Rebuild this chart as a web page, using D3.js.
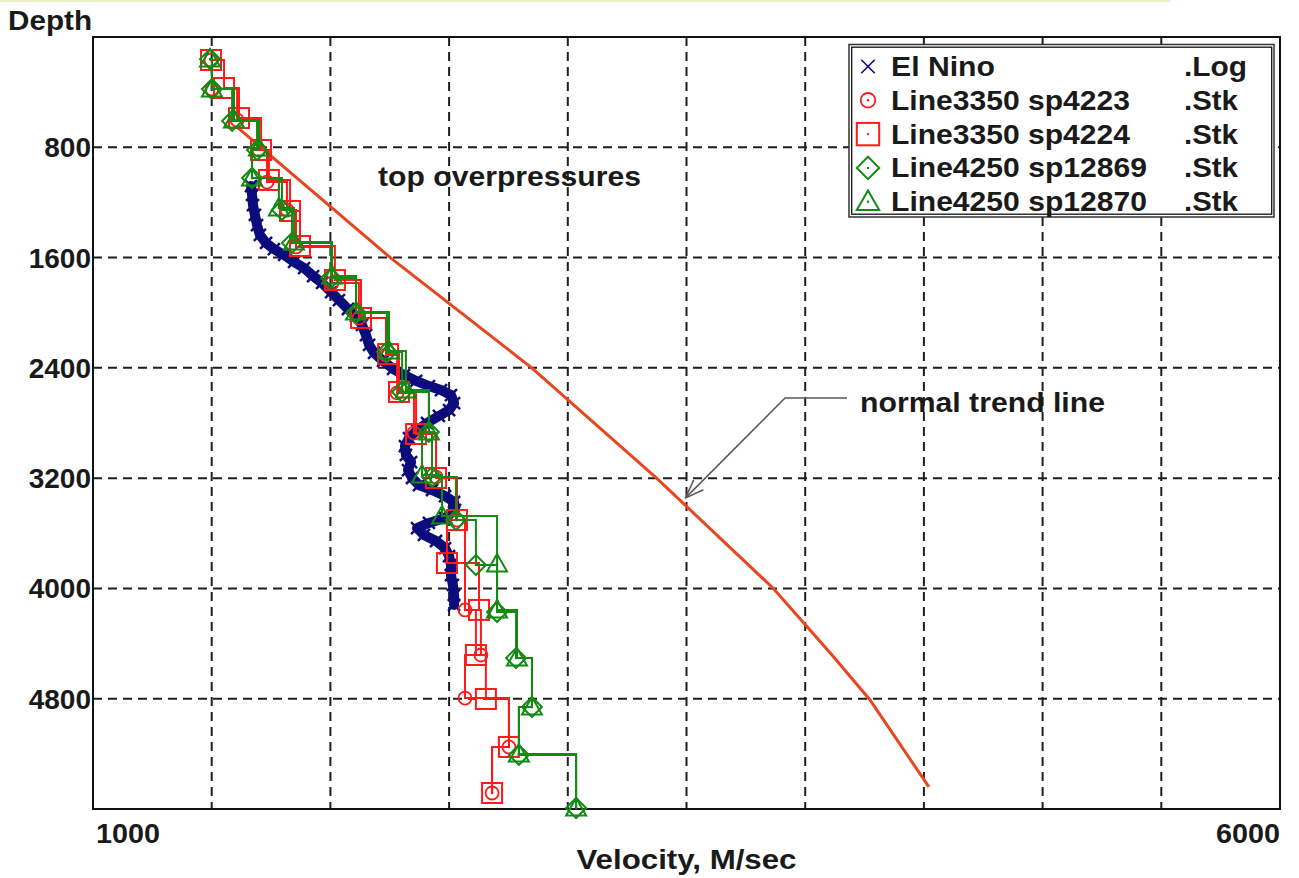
<!DOCTYPE html>
<html>
<head>
<meta charset="utf-8">
<script src="https://cdn.jsdelivr.net/npm/d3@7"></script>
<style>
  html, body { margin: 0; padding: 0; background: #ffffff; }
  svg { display: block; }
  text { font-family: "Liberation Sans", Arial, sans-serif; font-weight: bold; fill: #1a1a1a; }
</style>
</head>
<body>
<svg id="chart" width="1299" height="878"></svg>
<script>
// ---------------- DATA ----------------
const velocityDomain = [1000, 6000];
const depthDomain = [0, 5600];
const xGridValues = [1500, 2000, 2500, 3000, 3500, 4000, 4500, 5000, 5500];
const yTickValues = [800, 1600, 2400, 3200, 4000, 4800];
const xTickLabels = ["1000", "6000"];
const xAxisTitle = "Velocity, M/sec";
const yAxisTitle = "Depth";

// normal trend line
const trendVelocity = [1607, 2259, 2848, 3374, 3866, 4113, 4273, 4521];
const trendDepth    = [653, 1610, 2400, 3200, 4000, 4483, 4809, 5440];

// El Nino .Log (sonic log velocities)
const elNinoVelocity = [1666, 1670, 1674, 1682, 1691, 1703, 1729, 1762, 1805, 1847, 1889, 1927, 1965, 2003, 2036, 2074, 2108, 2133, 2150, 2163, 2184, 2222, 2264, 2310, 2361, 2415, 2466, 2508, 2521, 2500, 2457, 2407, 2365, 2331, 2314, 2318, 2340, 2327, 2344, 2373, 2428, 2483, 2521, 2525, 2483, 2415, 2365, 2394, 2445, 2483, 2500, 2508, 2508, 2516, 2521, 2521];
const elNinoDepth    = [1081, 1146, 1219, 1291, 1364, 1436, 1494, 1538, 1581, 1632, 1676, 1734, 1784, 1850, 1908, 1973, 2024, 2089, 2162, 2234, 2292, 2350, 2408, 2452, 2495, 2532, 2561, 2597, 2655, 2706, 2749, 2800, 2851, 2909, 2967, 3032, 3083, 3141, 3199, 3250, 3286, 3330, 3373, 3431, 3489, 3525, 3562, 3612, 3656, 3707, 3765, 3830, 3903, 3975, 4048, 4120];

// Line3350 sp4223 .Stk (circles)
const sp4223Velocity = [1497, 1501, 1607, 1699, 1733, 1817, 1855, 2007, 2120, 2234, 2281, 2352, 2445, 2533, 2567, 2634, 2567, 2752, 2681];
const sp4223Depth    = [167, 377, 602, 820, 1052, 1255, 1523, 1784, 2038, 2307, 2582, 2873, 3192, 3504, 4156, 4483, 4795, 5150, 5484];

// Line3350 sp4224 .Stk (squares)
const sp4224Velocity = [1497, 1552, 1615, 1708, 1741, 1830, 1872, 2019, 2129, 2243, 2289, 2361, 2445, 2533, 2491, 2626, 2613, 2655, 2752, 2681];
const sp4224Depth    = [167, 370, 588, 820, 1037, 1262, 1516, 1763, 2038, 2300, 2575, 2880, 3199, 3504, 3816, 4156, 4483, 4802, 5150, 5484];

// Line4250 sp12869 .Stk (diamonds)
const sp12869Velocity = [1493, 1501, 1586, 1691, 1670, 1796, 1838, 2003, 2108, 2238, 2302, 2415, 2428, 2529, 2613, 2702, 2782, 2849, 2794, 3035];
const sp12869Depth    = [160, 377, 609, 820, 1023, 1255, 1494, 1748, 2002, 2285, 2575, 2865, 3192, 3504, 3830, 4171, 4505, 4860, 5208, 5593];

// Line4250 sp12870 .Stk (triangles)
const sp12870Velocity = [1493, 1501, 1594, 1699, 1670, 1783, 1847, 2007, 2108, 2247, 2318, 2415, 2386, 2470, 2702, 2702, 2786, 2849, 2794, 3035];
const sp12870Depth    = [160, 377, 602, 805, 1023, 1240, 1487, 1734, 1995, 2278, 2561, 2865, 3177, 3475, 3823, 4156, 4505, 4860, 5201, 5593];

const legendNames  = ["El Nino", "Line3350 sp4223", "Line3350 sp4224", "Line4250 sp12869", "Line4250 sp12870"];
const legendSuffix = [".Log", ".Stk", ".Stk", ".Stk", ".Stk"];
const legendSymbols = ["x", "circle", "square", "diamond", "triangle"];

const annotationTop = "top overpressures";
const annotationTrend = "normal trend line";

// ---------------- DRAW ----------------
(function () {
const svg = d3.select("#chart");
const W = 1299, H = 878;
const pL = 93, pR = 1280, pT = 37, pB = 809;

const x = d3.scaleLinear().domain(velocityDomain).range([pL, pR]);
const y = d3.scaleLinear().domain(depthDomain).range([pT, pB]);

const RED = "#ff1a1a", GREEN = "#138a13", NAVY = "#0c0c7c", TREND = "#e8461e";

svg.append("rect").attr("width", W).attr("height", H).attr("fill", "#ffffff");
svg.append("rect").attr("x", 0).attr("y", 0).attr("width", 1170).attr("height", 2).attr("fill", "#ecefc6");

// grid
const grid = svg.append("g").attr("stroke", "#1e1e1e").attr("stroke-width", 2).attr("stroke-dasharray", "9,6");
grid.selectAll("line.v").data(xGridValues).join("line").attr("class", "v")
  .attr("x1", d => x(d)).attr("x2", d => x(d)).attr("y1", pT).attr("y2", pB);
grid.selectAll("line.h").data(yTickValues).join("line").attr("class", "h")
  .attr("x1", pL).attr("x2", pR).attr("y1", d => y(d)).attr("y2", d => y(d));

// frame
svg.append("rect").attr("x", pL).attr("y", pT).attr("width", pR - pL).attr("height", pB - pT)
  .attr("fill", "none").attr("stroke", "#111").attr("stroke-width", 2);

// y axis tick labels
svg.append("g").selectAll("text").data(yTickValues).join("text")
  .attr("x", 91).attr("y", d => y(d) + 10).attr("text-anchor", "end")
  .attr("font-size", 28).text(d => d);

svg.append("text").attr("x", 8).attr("y", 30).attr("font-size", 28)
  .attr("textLength", 84).attr("lengthAdjust", "spacingAndGlyphs").text(yAxisTitle);

// x tick labels (only ends)
svg.append("text").attr("x", x(velocityDomain[0]) + 3).attr("y", 843).attr("font-size", 28)
  .attr("textLength", 64).attr("lengthAdjust", "spacingAndGlyphs").text(xTickLabels[0]);
svg.append("text").attr("x", x(velocityDomain[1]) - 64).attr("y", 843).attr("font-size", 28)
  .attr("textLength", 64).attr("lengthAdjust", "spacingAndGlyphs").text(xTickLabels[1]);
svg.append("text").attr("x", (pL + pR) / 2 - 110).attr("y", 869).attr("font-size", 28)
  .attr("textLength", 220).attr("lengthAdjust", "spacingAndGlyphs").text(xAxisTitle);

// trend line
const trendData = trendVelocity.map((v, i) => [v, trendDepth[i]]);
svg.append("path").datum(trendData)
  .attr("d", d3.line().x(d => x(d[0])).y(d => y(d[1])))
  .attr("fill", "none").attr("stroke", TREND).attr("stroke-width", 3);

// El Nino log
const logData = elNinoVelocity.map((v, i) => [v, elNinoDepth[i]]);
svg.append("path").datum(logData)
  .attr("d", d3.line().x(d => x(d[0])).y(d => y(d[1])))
  .attr("fill", "none").attr("stroke", NAVY).attr("stroke-width", 10)
  .attr("stroke-linejoin", "round").attr("stroke-linecap", "round");
const xMark = (g, cx, cy, s, color, w) => {
  g.append("path").attr("d", `M${cx - s},${cy - s}L${cx + s},${cy + s}M${cx - s},${cy + s}L${cx + s},${cy - s}`)
    .attr("stroke", color).attr("stroke-width", w).attr("fill", "none");
};
const logG = svg.append("g");
logData.forEach(d => xMark(logG, x(d[0]), y(d[1]), 6, NAVY, 2.5));

// marker helpers
function drawMarker(g, type, cx, cy, color, big) {
  const k = big ? 1.12 : 1;
  if (type === "circle") {
    g.append("circle").attr("cx", cx).attr("cy", cy).attr("r", 6.5 * k).attr("fill", "none").attr("stroke", color).attr("stroke-width", 1.8);
  } else if (type === "square") {
    const s = 10 * k;
    g.append("rect").attr("x", cx - s).attr("y", cy - s).attr("width", 2 * s).attr("height", 2 * s).attr("fill", "none").attr("stroke", color).attr("stroke-width", 2);
  } else if (type === "diamond") {
    const s = 10 * k;
    g.append("path").attr("d", `M${cx},${cy - s}L${cx + s},${cy}L${cx},${cy + s}L${cx - s},${cy}Z`).attr("fill", "none").attr("stroke", color).attr("stroke-width", 2);
  } else if (type === "triangle") {
    const s = 10 * k;
    g.append("path").attr("d", `M${cx},${cy - s}L${cx + s},${cy + 0.75 * s}L${cx - s},${cy + 0.75 * s}Z`).attr("fill", "none").attr("stroke", color).attr("stroke-width", 2);
  } else if (type === "x") {
    xMark(g, cx, cy, 6 * k, NAVY, 1.6);
    return;
  }
  g.append("circle").attr("cx", cx).attr("cy", cy).attr("r", 1.2).attr("fill", color);
}

const seriesList = [
  { v: sp4223Velocity, d: sp4223Depth, color: RED, sym: "circle" },
  { v: sp4224Velocity, d: sp4224Depth, color: RED, sym: "square" },
  { v: sp12869Velocity, d: sp12869Depth, color: GREEN, sym: "diamond" },
  { v: sp12870Velocity, d: sp12870Depth, color: GREEN, sym: "triangle" }
];
const stepLine = d3.line().x(d => x(d[0])).y(d => y(d[1])).curve(d3.curveStepAfter);
seriesList.forEach(s => {
  const pts = s.v.map((v, i) => [v, s.d[i]]);
  const g = svg.append("g");
  g.append("path").datum(pts).attr("d", stepLine).attr("fill", "none").attr("stroke", s.color).attr("stroke-width", 2);
  pts.forEach(p => drawMarker(g, s.sym, x(p[0]), y(p[1]), s.color, false));
});

// annotations
svg.append("text").attr("x", 378).attr("y", 186).attr("font-size", 28)
  .attr("textLength", 263).attr("lengthAdjust", "spacingAndGlyphs").text(annotationTop);
svg.append("text").attr("x", 860).attr("y", 412).attr("font-size", 28)
  .attr("textLength", 245).attr("lengthAdjust", "spacingAndGlyphs").text(annotationTrend);

const tip = [x(3495), y(3345)];
const elbow = [x(3915), y(2619)];
const arrowG = svg.append("g").attr("stroke", "#5a5a5a").attr("stroke-width", 1.6).attr("fill", "none");
arrowG.append("polyline").attr("points", `847,${elbow[1]} ${elbow[0]},${elbow[1]} ${tip[0]},${tip[1]}`);
const ang = Math.atan2(elbow[1] - tip[1], elbow[0] - tip[0]);
[-0.35, 0.35].forEach(da => {
  arrowG.append("line").attr("x1", tip[0]).attr("y1", tip[1])
    .attr("x2", tip[0] + 20 * Math.cos(ang + da)).attr("y2", tip[1] + 20 * Math.sin(ang + da));
});

// legend
const lg = svg.append("g");
lg.append("rect").attr("x", 849).attr("y", 44.5).attr("width", 425).attr("height", 172.5)
  .attr("fill", "#fff").attr("stroke", "#333").attr("stroke-width", 1.5);
lg.append("rect").attr("x", 851.7).attr("y", 47.2).attr("width", 420).attr("height", 167)
  .attr("fill", "none").attr("stroke", "#111").attr("stroke-width", 1.3);
const legendWidths = [104, 239, 239, 256, 256];
const suffixWidths = [63, 54, 54, 54, 54];
const legendColors = [NAVY, RED, RED, GREEN, GREEN];
legendNames.forEach((name, i) => {
  const base = 76 + i * 33.8;
  drawMarker(lg, legendSymbols[i], 868, base - 9.5, legendColors[i], true);
  lg.append("text").attr("x", 891).attr("y", base).attr("font-size", 27)
    .attr("textLength", legendWidths[i]).attr("lengthAdjust", "spacingAndGlyphs").text(name);
  lg.append("text").attr("x", 1184).attr("y", base).attr("font-size", 27)
    .attr("textLength", suffixWidths[i]).attr("lengthAdjust", "spacingAndGlyphs").text(legendSuffix[i]);
});
})();
</script>
</body>
</html>
